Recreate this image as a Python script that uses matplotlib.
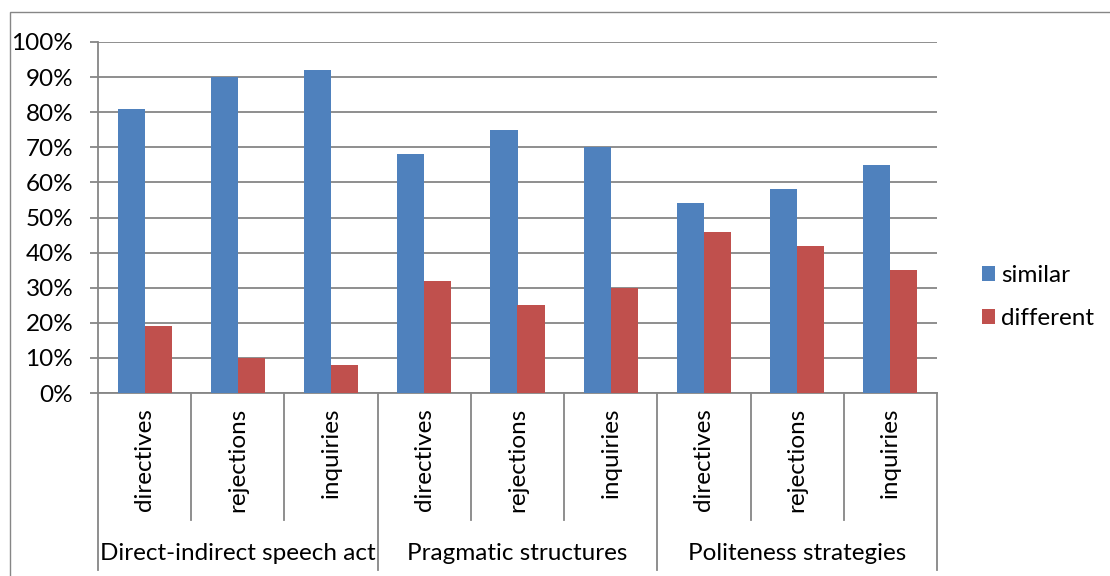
import matplotlib.pyplot as plt
import matplotlib.patches as mpatches
import numpy as np
from matplotlib.ticker import PercentFormatter

plt.rcParams['font.family'] = ['Lato', 'DejaVu Sans']

# data
groups = ['Direct-indirect speech act', 'Pragmatic structures', 'Politeness strategies']
items = ['directives', 'rejections', 'inquiries']
similar = [81, 90, 92, 68, 75, 70, 54, 58, 65]
different = [19, 10, 8, 32, 25, 30, 46, 42, 35]

blue = '#4F81BD'
red = '#C0504D'
grey = '#868686'
fs = 17.5

W, H = 1110, 576
fig = plt.figure(figsize=(W / 100, H / 100), dpi=100)
ax = fig.add_axes([98 / W, 1 - 393 / H, (937 - 98) / W, (393 - 42) / H])

n = len(similar)
x = np.arange(n)
bw = 0.29
ax.bar(x - bw / 2, similar, width=bw, color=blue, label='similar', zorder=3)
ax.bar(x + bw / 2, different, width=bw, color=red, label='different', zorder=3)

ax.set_xlim(-0.5, n - 0.5)
ax.set_ylim(0, 100)
ax.set_yticks(np.arange(0, 101, 10))
ax.yaxis.set_major_formatter(PercentFormatter(decimals=0))
ax.tick_params(axis='y', length=5.8, width=1.3, color=grey, labelsize=fs, pad=12)
ax.set_xticks([])
ax.grid(axis='y', color=grey, linewidth=1.3, zorder=0)
for s in ['top', 'right']:
    ax.spines[s].set_visible(False)
ax.spines['left'].set_color(grey)
ax.spines['left'].set_linewidth(1.3)
ax.spines['bottom'].set_color(grey)
ax.spines['bottom'].set_linewidth(1.3)

# multi-level category axis
tr = ax.get_xaxis_transform()
inner_bottom = -(520 - 393) / 351
outer_bottom = -(570 - 393) / 351
for i in range(n + 1):
    xb = i - 0.5
    yb = outer_bottom if i % 3 == 0 else inner_bottom
    ax.plot([xb, xb], [0, yb], transform=tr, color=grey, lw=1.3, clip_on=False)

for i in range(n):
    ax.text(x[i], -(408 - 393) / 351, items[i % 3], transform=tr, rotation=90,
            ha='center', va='top', fontsize=fs)

for g, name in enumerate(groups):
    ax.text(g * 3 + 1, -(553 - 393) / 351, name, transform=tr,
            ha='center', va='center', fontsize=fs)

# outer chart border
fig.patches.append(mpatches.Rectangle((10 / W, -0.1), 1.2, 1 - 12 / H + 0.1,
                                      transform=fig.transFigure, fill=False,
                                      edgecolor=grey, lw=1))

fig.legend(loc='center left', bbox_to_anchor=(960 / W, 1 - 297 / H),
           frameon=False, handlelength=0.55, handleheight=0.55,
           handletextpad=0.25, labelspacing=0.9, fontsize=fs)

fig.savefig('out.png', dpi=100)
